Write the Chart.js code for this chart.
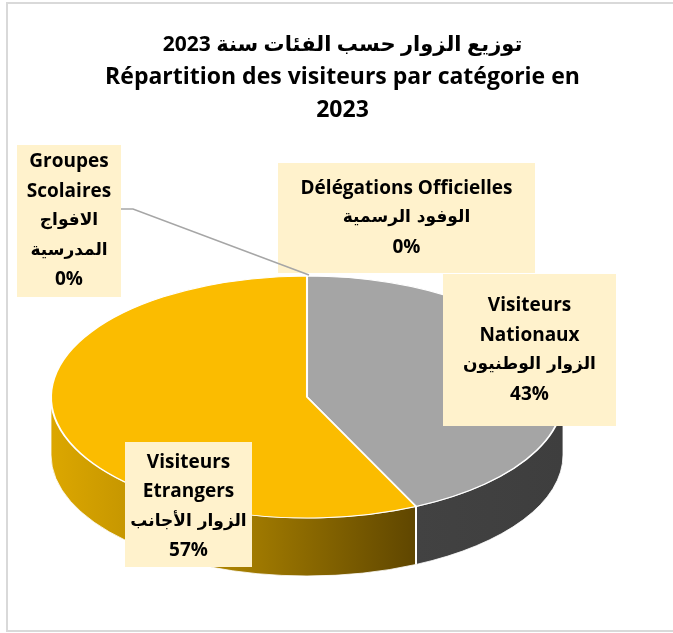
<!DOCTYPE html>
<html>
<head>
<meta charset="utf-8">
<script src="https://cdn.jsdelivr.net/npm/chart.js@4.4.1/dist/chart.umd.min.js"></script>
<style>
  html, body { margin: 0; padding: 0; background: #fff; }
</style>
</head>
<body>
<canvas id="myChart" width="673" height="633"></canvas>
<script>
// data
const categoriesFr = ['Délégations Officielles', 'Visiteurs Nationaux', 'Visiteurs Etrangers', 'Groupes Scolaires'];
const categoriesAr = ['الوفود الرسمية', 'الزوار الوطنيون', 'الزوار الأجانب', 'الافواج المدرسية'];
const shares = [0, 43, 57, 0];
const titleAr = 'توزيع الزوار حسب الفئات سنة 2023';
const titleFr = ['Répartition des visiteurs par catégorie en', '2023'];

// look
const topColors = ['#5B9BD5', '#A5A5A5', '#FBBC00', '#4472C4'];
const sideStops = [
  ['#3F6E99', '#3F6E99'],
  ['#424242', '#3E3E3E'],
  ['#DCA700', '#A88000', '#5F4600'],
  ['#2F5597', '#2F5597']
];
const FONT_FAMILY = '"Open Sans", "DejaVu Sans", sans-serif';
const FR_FONT = 'bold 19px ' + FONT_FAMILY;
const AR_FONT = 'bold 17px "DejaVu Sans", sans-serif';
// where Excel put the label boxes, and how each label wraps
const labelBoxes = [
  { x: 278, y: 163, w: 257, h: 110, wrapFr: false, wrapAr: false },
  { x: 443, y: 274, w: 173, h: 152, wrapFr: true, wrapAr: false },
  { x: 125, y: 442, w: 127, h: 125, wrapFr: true, wrapAr: false, dy: 2 },
  { x: 17, y: 145, w: 104, h: 152, wrapFr: true, wrapAr: true, leader: true }
];

// 3d ellipse geometry of the top face
const CX = 307, CY = 397, RX = 256, RY = 121, DEPTH = 58;

const pie3d = {
  id: 'pie3d',
  beforeDraw(chart) {
    const ctx = chart.ctx;
    ctx.save();
    ctx.fillStyle = '#fff';
    ctx.fillRect(0, 0, chart.width, chart.height);
    ctx.strokeStyle = '#D9D9D9';
    ctx.lineWidth = 2;
    ctx.strokeRect(7, 3, 700, 628);
    ctx.restore();
  },
  beforeDatasetsDraw(chart) {
    const ctx = chart.ctx;
    const arcs = chart.getDatasetMeta(0).data;
    // the front wall, only the part facing us (0..pi)
    arcs.forEach((arc, i) => {
      const a = Math.max(arc.startAngle, 0), b = Math.min(arc.endAngle, Math.PI);
      if (b <= a) return;
      const x1 = CX + RX * Math.cos(b), x2 = CX + RX * Math.cos(a);
      const g = ctx.createLinearGradient(x1, 0, x2, 0);
      const st = sideStops[i];
      st.forEach((c, k) => g.addColorStop(k / (st.length - 1), c));
      ctx.save();
      ctx.beginPath();
      ctx.ellipse(CX, CY, RX, RY, 0, a, b);
      ctx.lineTo(CX + RX * Math.cos(b), CY + DEPTH + RY * Math.sin(b));
      ctx.ellipse(CX, CY + DEPTH, RX, RY, 0, b, a, true);
      ctx.closePath();
      ctx.fillStyle = g;
      ctx.fill();
      ctx.strokeStyle = 'rgba(255,255,255,0.8)';
      ctx.lineWidth = 1;
      ctx.stroke();
      ctx.restore();
    });
    // seams between walls
    arcs.forEach(arc => {
      const t = arc.endAngle;
      if (t > 0 && t < Math.PI && arc.circumference > 0) {
        const x = CX + RX * Math.cos(t), y = CY + RY * Math.sin(t);
        ctx.save();
        ctx.strokeStyle = '#fff';
        ctx.lineWidth = 2;
        ctx.beginPath();
        ctx.moveTo(x, y);
        ctx.lineTo(x, y + DEPTH);
        ctx.stroke();
        ctx.restore();
      }
    });
    // squash the flat pie into the top ellipse
    const a0 = arcs[0];
    ctx.save();
    ctx.translate(CX, CY);
    ctx.scale(RX / a0.outerRadius, RY / a0.outerRadius);
    ctx.translate(-a0.x, -a0.y);
  },
  afterDatasetsDraw(chart) {
    chart.ctx.restore();
  },
  afterDraw(chart) {
    const ctx = chart.ctx;
    const total = shares.reduce((s, v) => s + v, 0);
    labelBoxes.forEach((bx, i) => {
      if (bx.leader) {
        ctx.save();
        ctx.strokeStyle = '#A6A6A6';
        ctx.lineWidth = 1.5;
        ctx.beginPath();
        ctx.moveTo(bx.x + bx.w, 209);
        ctx.lineTo(bx.x + bx.w + 12, 209);
        ctx.lineTo(CX + 2, CY - RY - 1);
        ctx.stroke();
        ctx.restore();
      }
      ctx.fillStyle = '#FFF2CC';
      ctx.fillRect(bx.x, bx.y, bx.w, bx.h);
      const lines = []
        .concat((bx.wrapFr ? categoriesFr[i].split(' ') : [categoriesFr[i]]).map(t => [t, FR_FONT]))
        .concat((bx.wrapAr ? categoriesAr[i].split(' ') : [categoriesAr[i]]).map(t => [t, AR_FONT]))
        .concat([[Math.round(shares[i] / total * 100) + '%', FR_FONT]]);
      const lh = 29.5;
      const cx = bx.x + bx.w / 2;
      const y0 = bx.y + bx.h / 2 - (lines.length - 1) * lh / 2 + (bx.dy || 0);
      ctx.save();
      ctx.fillStyle = '#000';
      ctx.textAlign = 'center';
      ctx.textBaseline = 'middle';
      lines.forEach(([t, f], k) => {
        ctx.font = f;
        ctx.fillText(t, cx, y0 + k * lh, bx.w - 6);
      });
      ctx.restore();
    });
  }
};

const ctx = document.getElementById('myChart').getContext('2d');
new Chart(ctx, {
  type: 'pie',
  data: {
    labels: categoriesFr,
    datasets: [{
      data: shares,
      backgroundColor: topColors,
      borderColor: '#fff',
      borderWidth: 2,
      hoverOffset: 0,
      clip: false
    }]
  },
  options: {
    responsive: false,
    animation: false,
    layout: { padding: { left: 12, right: 0, top: 0, bottom: 0 } },
    plugins: {
      legend: { display: false },
      tooltip: { enabled: false },
      title: {
        display: true,
        text: titleAr,
        color: '#000',
        font: { family: FONT_FAMILY, size: 21, weight: 'bold', lineHeight: 1.2 },
        padding: { top: 32, bottom: 4 }
      },
      subtitle: {
        display: true,
        text: titleFr,
        color: '#000',
        font: { family: FONT_FAMILY, size: 23, weight: 'bold', lineHeight: 1.43 },
        padding: { top: 0, bottom: 8 }
      }
    }
  },
  plugins: [pie3d]
});
</script>
</body>
</html>
